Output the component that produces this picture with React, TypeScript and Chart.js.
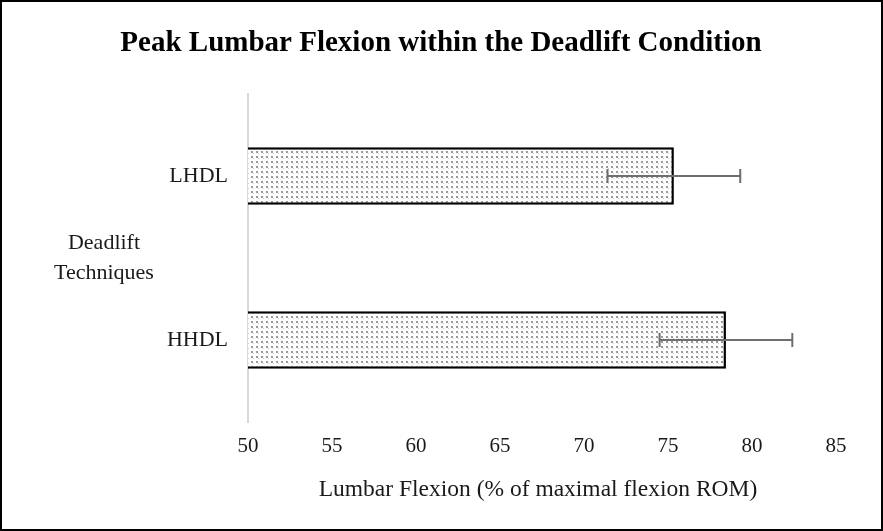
import React, { useEffect, useRef } from "react";
import { Chart, registerables } from "chart.js";

Chart.register(...registerables);

const categories = ["LHDL", "HHDL"];
const means = [75.35, 78.45];
const errors = [3.95, 3.95];
const xMin = 50;
const xMax = 85;
const xStep = 5;
const titleText = "Peak Lumbar Flexion within the Deadlift Condition";
const yTitleLines = ["Deadlift", "Techniques"];
const xTitleText = "Lumbar Flexion (% of maximal flexion ROM)";

const SERIF = "'Liberation Serif', 'Times New Roman', serif";

function makePattern(): CanvasPattern | string {
  const c = document.createElement("canvas");
  c.width = 5;
  c.height = 5;
  const g = c.getContext("2d");
  if (!g) return "#ddd";
  g.fillStyle = "#ffffff";
  g.fillRect(0, 0, 5, 5);
  g.fillStyle = "#9a9a9a";
  g.fillRect(1, 1, 2, 2);
  g.fillStyle = "#d0d0d0";
  g.fillRect(3, 3, 1, 1);
  const p = g.createPattern(c, "repeat");
  return p || "#ddd";
}

const decorPlugin = {
  id: "decor",
  afterDatasetsDraw(chart: any) {
    const ctx = chart.ctx;
    const xs = chart.scales.x;
    const ys = chart.scales.y;
    ctx.save();
    ctx.strokeStyle = "#6e6e6e";
    ctx.lineWidth = 2;
    means.forEach((m, i) => {
      const y = ys.getPixelForValue(i);
      const x1 = xs.getPixelForValue(m - errors[i]);
      const x2 = xs.getPixelForValue(m + errors[i]);
      ctx.beginPath();
      ctx.moveTo(x1, y);
      ctx.lineTo(x2, y);
      ctx.moveTo(x1, y - 7);
      ctx.lineTo(x1, y + 7);
      ctx.moveTo(x2, y - 7);
      ctx.lineTo(x2, y + 7);
      ctx.stroke();
    });
    ctx.restore();
  },
  afterDraw(chart: any) {
    const ctx = chart.ctx;
    const area = chart.chartArea;
    ctx.save();
    ctx.fillStyle = "#000";
    ctx.font = `bold 29px ${SERIF}`;
    ctx.textAlign = "center";
    ctx.textBaseline = "middle";
    ctx.fillText(titleText, 441, 44);
    ctx.font = `22px ${SERIF}`;
    ctx.fillStyle = "#1a1a1a";
    yTitleLines.forEach((t, i) => {
      ctx.fillText(t, 104, 243 + i * 30);
    });
    ctx.font = `23.5px ${SERIF}`;
    ctx.fillText(xTitleText, (area.left + area.right) / 2 - 4, 490);
    ctx.strokeStyle = "#000";
    ctx.lineWidth = 2;
    ctx.strokeRect(1, 1, 881, 529);
    ctx.restore();
  },
};

export default function App() {
  const ref = useRef<HTMLCanvasElement>(null);
  useEffect(() => {
    if (!ref.current) return;
    const chart = new Chart(ref.current, {
      type: "bar",
      data: {
        labels: categories,
        datasets: [
          {
            data: means,
            backgroundColor: makePattern() as any,
            borderColor: "#000",
            borderWidth: 2.5,
            borderSkipped: false,
            categoryPercentage: 1,
            barPercentage: 0.35,
          },
        ],
      },
      options: {
        indexAxis: "y",
        responsive: false,
        animation: false,
        layout: { padding: { left: 0, top: 94, right: 47, bottom: 0 } },
        plugins: {
          legend: { display: false },
          title: { display: false },
          tooltip: { enabled: false },
        },
        scales: {
          x: {
            min: xMin,
            max: xMax,
            ticks: {
              stepSize: xStep,
              color: "#1a1a1a",
              font: { family: SERIF, size: 21 },
              padding: 12,
            },
            grid: { display: false, drawTicks: false },
            border: { display: false },
            afterFit(scale: any) {
              scale.height = 109;
            },
          },
          y: {
            ticks: {
              color: "#1a1a1a",
              font: { family: SERIF, size: 22 },
              padding: 20,
            },
            grid: { display: false, drawTicks: false },
            border: { display: true, color: "#d9d9d9", width: 2 },
            afterFit(scale: any) {
              scale.width = 248;
            },
          },
        },
      },
      plugins: [decorPlugin],
    });
    return () => chart.destroy();
  }, []);
  return (
    <div style={{ position: "absolute", left: 0, top: 0, width: 883, height: 531, background: "#fff" }}>
      <canvas ref={ref} width={883} height={531} style={{ display: "block" }} />
    </div>
  );
}
